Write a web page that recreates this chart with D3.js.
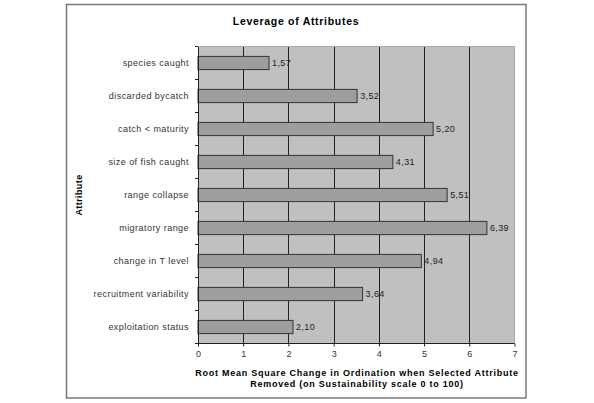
<!DOCTYPE html>
<html><head><meta charset="utf-8">
<script src="https://cdn.jsdelivr.net/npm/d3@7"></script>
<style>body{margin:0;background:#fff;}svg{display:block;}</style>
</head><body>
<script>
const categories = ["species caught","discarded bycatch","catch < maturity","size of fish caught","range collapse","migratory range","change in T level","recruitment variability","exploitation status"];
const values = [1.57,3.52,5.20,4.31,5.51,6.39,4.94,3.64,2.10];
const valueLabels = ["1,57","3,52","5,20","4,31","5,51","6,39","4,94","3,64","2,10"];
const xTicks = [0,1,2,3,4,5,6,7];
const title = "Leverage of Attributes";
const xTitle = ["Root Mean Square Change in Ordination when Selected Attribute","Removed (on Sustainability scale 0 to 100)"];
const yTitle = "Attribute";

const W=594,H=403;
const svg=d3.select("body").append("svg").attr("width",W).attr("height",H);
const font="Arial, 'Liberation Sans', sans-serif";
svg.append("rect").attr("x",66.5).attr("y",4.5).attr("width",459.5).attr("height",393.5)
  .attr("fill","#fff").attr("stroke","#7a7a7a").attr("stroke-width",1.5);

const L=198,R=514.5,T=46.5,B=343.5;
const x=d3.scaleLinear().domain([0,7]).range([L,R]);
const y=d3.scaleBand().domain(categories).range([T,B]).paddingInner(0.6).paddingOuter(0.3);
const yb=d3.scaleBand().domain(categories).range([T,B]);

svg.append("rect").attr("x",L).attr("y",T).attr("width",R-L).attr("height",B-T).attr("fill","#c0c0c0");
svg.append("g").selectAll("line").data(xTicks.slice(1,-1)).join("line")
  .attr("x1",d=>Math.round(x(d))+0.5).attr("x2",d=>Math.round(x(d))+0.5).attr("y1",T).attr("y2",B)
  .attr("stroke","#222").attr("stroke-width",1);
svg.append("line").attr("x1",R).attr("x2",R).attr("y1",T).attr("y2",B).attr("stroke","#a8a8a8");
svg.append("line").attr("x1",L).attr("x2",R).attr("y1",T).attr("y2",T).attr("stroke","#a8a8a8");

svg.append("g").selectAll("rect").data(values).join("rect")
  .attr("x",x(0)).attr("y",(d,i)=>y(categories[i]))
  .attr("width",d=>x(d)-x(0)).attr("height",y.bandwidth())
  .attr("fill","#9e9e9e").attr("stroke","#333").attr("stroke-width",1);

svg.append("g").selectAll("text").data(values).join("text")
  .attr("x",d=>x(d)+3).attr("y",(d,i)=>y(categories[i])+y.bandwidth()/2+3)
  .attr("font-family",font).attr("font-size",9).attr("letter-spacing",0.4).attr("fill","#222")
  .text((d,i)=>valueLabels[i]);

const yAxis=d3.axisLeft(yb).tickSize(0).tickPadding(9);
const gy=svg.append("g").attr("transform",`translate(${L},0)`).call(yAxis);
gy.select(".domain").attr("stroke","#222");
gy.selectAll("text").attr("font-family",font).attr("font-size",9).attr("letter-spacing",0.45).attr("fill","#333");
svg.append("g").selectAll("line").data(d3.range(categories.length+1)).join("line")
  .attr("x1",L-3).attr("x2",L).attr("y1",i=>T+i*yb.step()).attr("y2",i=>T+i*yb.step()).attr("stroke","#222");

const xAxis=d3.axisBottom(x).tickValues(xTicks).tickSize(3).tickPadding(4).tickFormat(d3.format("d"));
const gx=svg.append("g").attr("transform",`translate(0,${B})`).call(xAxis);
gx.select(".domain").attr("stroke","#222").attr("d",`M${L},0H${R}`);
gx.selectAll("line").attr("stroke","#222");
gx.selectAll("text").attr("font-family",font).attr("font-size",9).attr("fill","#333");

svg.append("text").attr("x",296).attr("y",25).attr("text-anchor","middle")
  .attr("font-family",font).attr("font-size",10.5).attr("letter-spacing",0.7).attr("font-weight","bold").text(title);
svg.append("text").attr("text-anchor","middle").attr("font-family",font).attr("font-size",9).attr("letter-spacing",0.75).attr("font-weight","bold")
  .selectAll("tspan").data(xTitle).join("tspan").attr("x",357).attr("y",(d,i)=>376+i*10.5).text(d=>d);
svg.append("text").attr("transform",`translate(82,${(T+B)/2}) rotate(-90)`).attr("text-anchor","middle")
  .attr("font-family",font).attr("font-size",9).attr("letter-spacing",0.4).attr("font-weight","bold").text(yTitle);
</script>
</body></html>
